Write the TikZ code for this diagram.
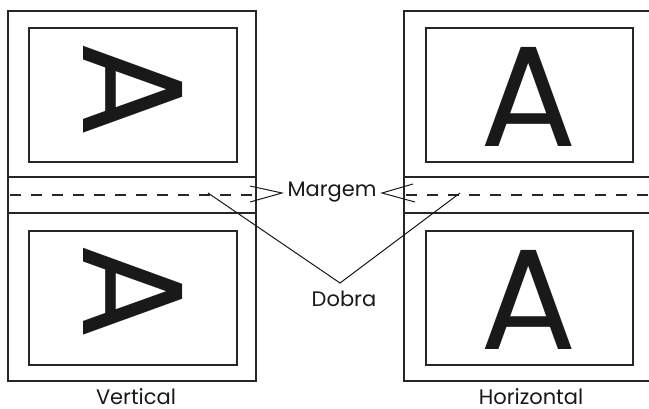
\documentclass[tikz,border=0pt]{standalone}
\usepackage{fontspec}
\setmainfont{Poppins}
\begin{document}
\begin{tikzpicture}[x=1pt,y=-1pt,
  frame/.style={line width=2pt, draw=black!85, line join=miter},
  conn/.style={line width=1pt, draw=black!90},
  fold/.style={line width=2pt, draw=black!85, dash pattern=on 11pt off 10pt},
  lbl/.style={font=\fontsize{21}{21}\selectfont, inner sep=0pt, text=black!90},
  bigA/.style={font=\fontsize{143}{143}\selectfont, inner sep=0pt, text=black!90}]
\useasboundingbox (0,0) rectangle (649,409);
% left page (Vertical)
\draw[frame] (8,11) rectangle (256,381);
\draw[frame] (8,177) -- (256,177);
\draw[frame] (8,213) -- (256,213);
\draw[frame] (29,28) rectangle (237,162);
\draw[frame] (29,231) rectangle (237,365);
\draw[fold] (10,195) -- (256,195);
\node[bigA, rotate=-90] (LA1) at (133,90) {A};
\node[bigA, rotate=-90] (LA2) at (133,292) {A};
% right page (Horizontal)
\draw[frame] (652,11) -- (404,11) -- (404,381) -- (652,381);
\draw[frame] (404,177) -- (652,177);
\draw[frame] (404,213) -- (652,213);
\draw[frame] (426,28) rectangle (633,162);
\draw[frame] (426,231) rectangle (633,365);
\draw[fold] (406,195) -- (652,195);
\node[bigA] (RA1) at (529,97) {A};
\node[bigA] (RA2) at (529,300) {A};
% labels
\node[lbl] (M) at (332,192) {Margem};
\node[lbl] (D) at (344,299) {Dobra};
\node[lbl, anchor=base] (V) at (136,404) {Vertical};
\node[lbl, anchor=base] (H) at (531,404) {Horizontal};
% connector points
\coordinate (ml) at (282,193);
\coordinate (mr) at (382,193);
\coordinate (ml1) at (250,186);
\coordinate (ml2) at (250,202);
\coordinate (mr1) at (413,184);
\coordinate (mr2) at (415,202);
\coordinate (dv) at (340,283);
\coordinate (dl) at (208,193);
\coordinate (dr) at (460,193);
\draw[conn] (ml1) -- (ml) -- (ml2);
\draw[conn] (mr1) -- (mr) -- (mr2);
\draw[conn] (dl) -- (dv) -- (dr);
\end{tikzpicture}
\end{document}
